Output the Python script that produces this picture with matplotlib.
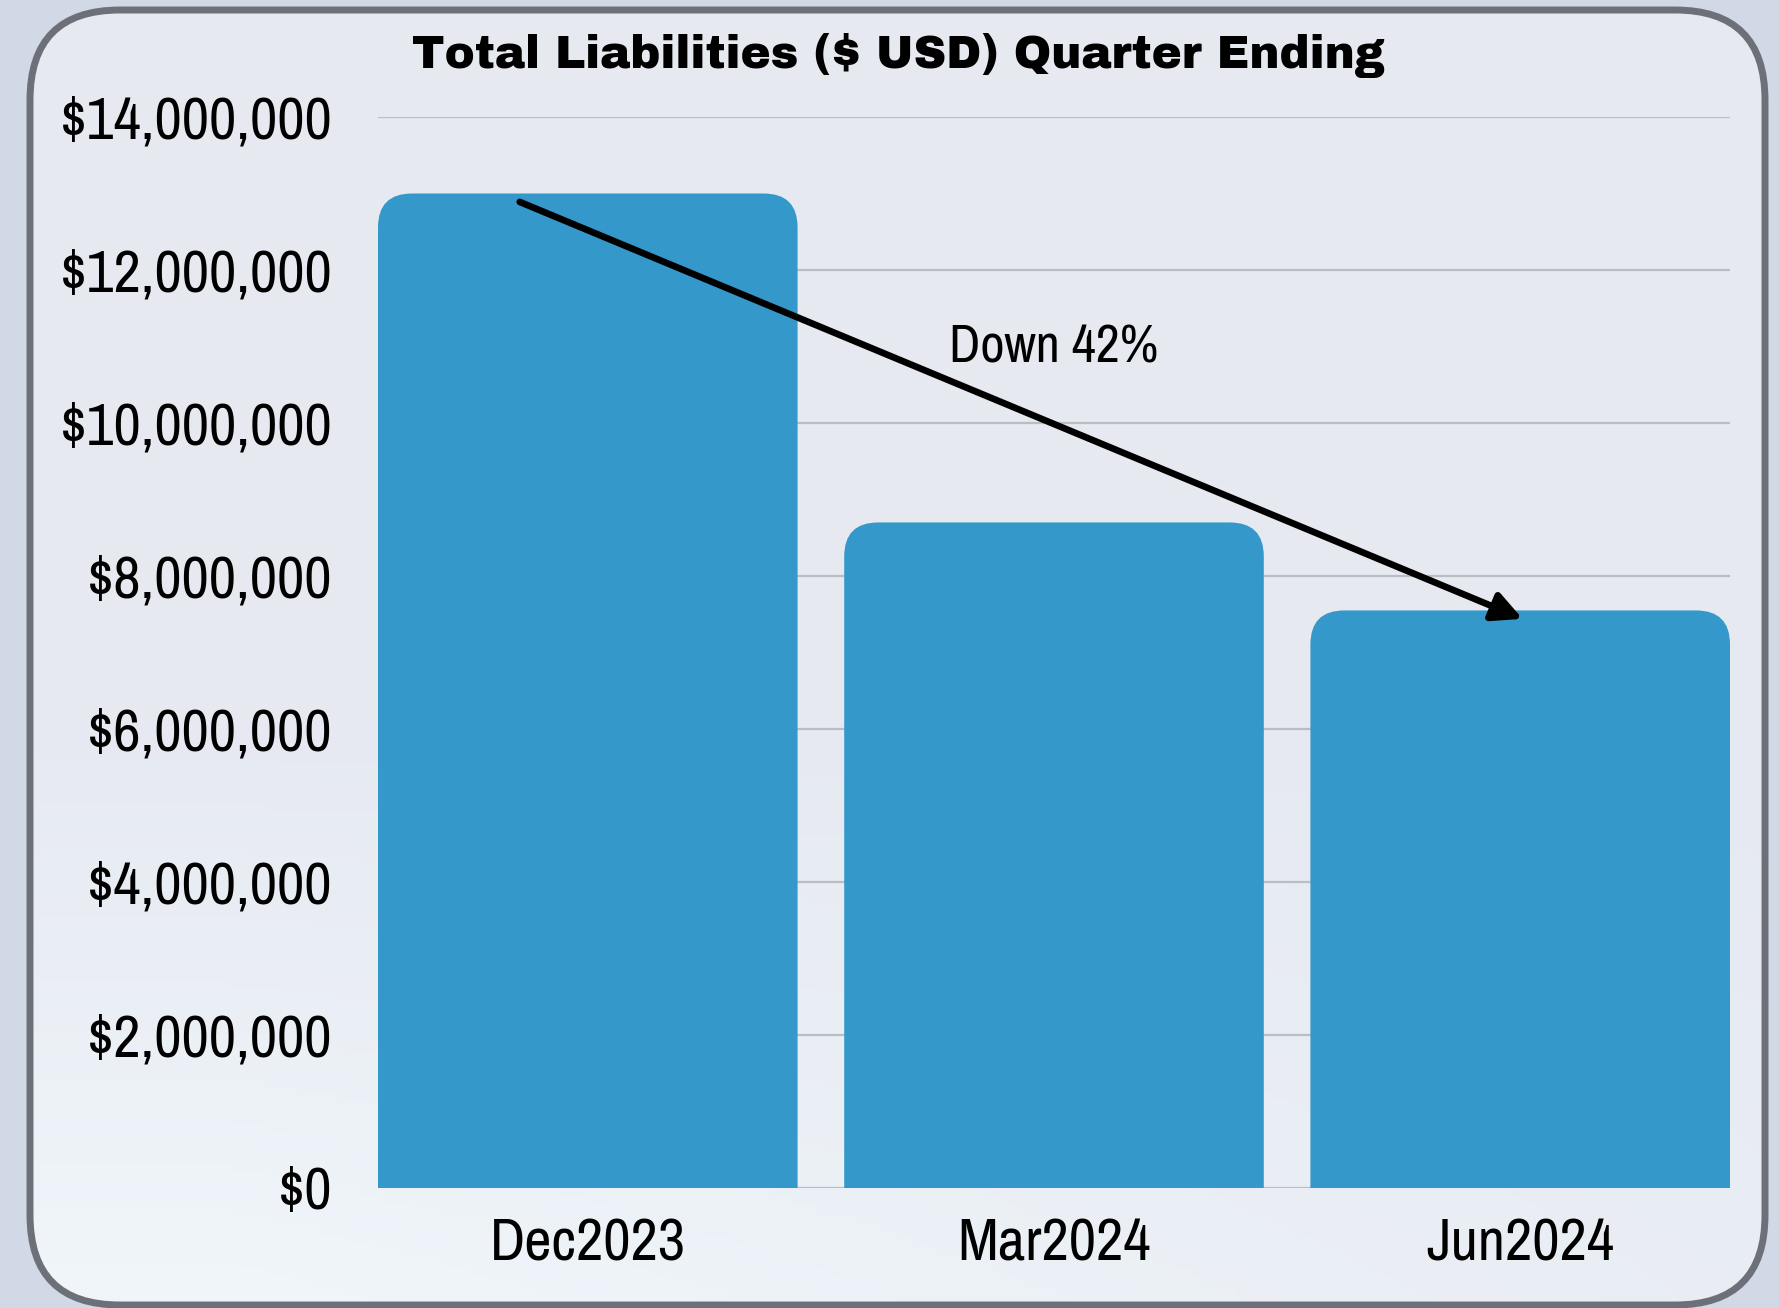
import matplotlib
matplotlib.use("Agg")
import matplotlib.pyplot as plt
from matplotlib import font_manager
from matplotlib.patches import FancyBboxPatch
from matplotlib.ticker import FuncFormatter
import numpy as np

# data
quarters = ["Dec2023", "Mar2024", "Jun2024"]
liabilities = [13000000, 8700000, 7550000]
y_ticks = [0, 2000000, 4000000, 6000000, 8000000, 10000000, 12000000, 14000000]
title = "Total Liabilities ($ USD) Quarter Ending"

BAR_COLOR = "#3498cb"
GRID_COLOR = "#b9bdc4"
W, H = 1779, 1308

names = {f.name for f in font_manager.fontManager.ttflist}


def pick(*cands):
    for c in cands:
        if c in names:
            return c
    return "DejaVu Sans"


NARROW = pick("Archivo Narrow", "Liberation Sans Narrow", "Barlow Condensed")
HEAVY = pick("Archivo Black", "Archivo", "DejaVu Sans")

fig = plt.figure(figsize=(W / 100, H / 100), dpi=100)
fig.patch.set_facecolor("#d1d9e6")

# background card
bg = fig.add_axes([0, 0, 1, 1], zorder=-5)
bg.set_xlim(0, W)
bg.set_ylim(H, 0)
bg.axis("off")
card = FancyBboxPatch((30, 10), 1735, 1295, boxstyle="round,pad=0,rounding_size=90",
                      facecolor="none", edgecolor="#6d7078", lw=5, zorder=3)
bg.add_patch(card)
yy, xx = np.mgrid[0:1:200j, 0:1:200j]
top_c = np.array([0.902, 0.914, 0.945])
low_c = np.array([0.94, 0.965, 0.98])
w = np.clip((yy - 0.55) / 0.45, 0, 1) * np.clip(1.1 - xx * 0.8, 0, 1)
img = top_c[None, None, :] * (1 - w[..., None]) + low_c[None, None, :] * w[..., None]
im = bg.imshow(img, extent=(0, W, H, 0), aspect="auto", zorder=1)
im.set_clip_path(card)

ax = fig.add_axes([378 / W, 120 / H, (1730 - 378) / W, (1188 - 117) / H])
ax.set_facecolor("none")
x = np.arange(len(quarters))
width = 0.9
ax.set_xlim(-0.45, len(quarters) - 0.55)
ax.set_ylim(0, 14000000)
ax.set_yticks(y_ticks)
ax.yaxis.set_major_formatter(FuncFormatter(lambda v, p: "${:,.0f}".format(v)))
ax.set_xticks(x)
ax.set_xticklabels(quarters)
ax.grid(axis="y", color=GRID_COLOR, lw=1.6, zorder=0)
ax.set_axisbelow(True)
for s in ax.spines.values():
    s.set_visible(False)
ax.tick_params(length=0)
ax.tick_params(axis="y", pad=33)
ax.tick_params(axis="x", pad=21)
for lab in ax.get_yticklabels() + ax.get_xticklabels():
    lab.set_fontfamily(NARROW)
    lab.set_fontsize(43)
    lab.set_color("black")

# rounded bars (top corners), aspect fixed so corners look circular
fig.canvas.draw()
p0 = ax.transData.transform((0, 0))
p1 = ax.transData.transform((1, 1000000))
px_x = p1[0] - p0[0]
px_y = (p1[1] - p0[1]) / 1000000
aspect = px_x / px_y
r = 34 / px_x
for xi, v in zip(x, liabilities):
    patch = FancyBboxPatch((xi - width / 2, -2000000), width, v + 2000000,
                           boxstyle="round,pad=0,rounding_size=%f" % r,
                           mutation_aspect=aspect, facecolor=BAR_COLOR,
                           edgecolor="none", zorder=2)
    ax.add_patch(patch)

# trend arrow
ax.annotate("", xy=(x[-1] + 0.005, liabilities[-1] - 110000),
            xytext=(x[0] - 0.146, liabilities[0] - 110000),
            arrowprops=dict(arrowstyle="-|>", color="black", lw=4.8,
                            mutation_scale=44, shrinkA=0, shrinkB=0),
            zorder=5)
pct = round((1 - liabilities[-1] / liabilities[0]) * 100)
ax.text(1.0, 10990000, "Down %d%%" % pct, ha="center", va="center",
        fontsize=38, family=NARROW, color="black", zorder=5)

fig.text(898 / W, 1 - 56 / H, title, ha="center", va="center",
         fontsize=32.5, family=HEAVY, color="black")

fig.savefig("out.png", dpi=100, facecolor=fig.get_facecolor())
